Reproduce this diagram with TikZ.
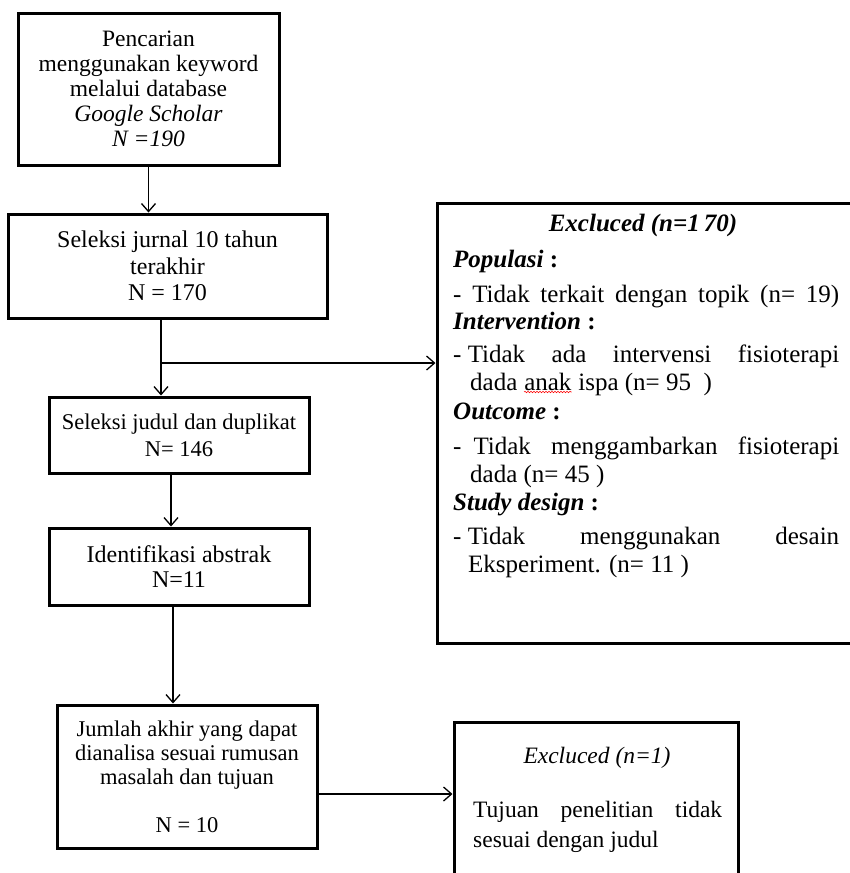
\documentclass[tikz,border=0pt]{standalone}
\usepackage{fontspec}
\setmainfont{Liberation Serif}
\usetikzlibrary{arrows.meta,decorations.pathmorphing}
\begin{document}
\begin{tikzpicture}[x=1pt,y=-1pt,
  box/.style={draw, line width=3pt, align=center, inner sep=0pt},
  conn/.style={line width=1.3pt, -{Straight Barb[length=8pt,width=14pt,line width=1.3pt]}},
  plain/.style={line width=1.3pt},
  txt/.style={anchor=base west, inner sep=0pt, font=\fontsize{25}{28}\selectfont},
  stxt/.style={anchor=base west, inner sep=0pt, font=\fontsize{23.5}{28}\selectfont},
  spell/.style={red, line width=0.6pt, decorate, decoration={snake, amplitude=0.7pt, segment length=3pt}},
]
\useasboundingbox (0,0) rectangle (850,873);
\clip (0,0) rectangle (850,873);

% left column boxes
\node[box, minimum width=261pt, minimum height=152pt, font=\fontsize{23.5}{25}\selectfont] (b1) at (148.5,89)
  {Pencarian\\menggunakan keyword\\melalui database\\\textit{Google Scholar}\\\textit{N =190}};
\node[box, minimum width=319pt, minimum height=104pt, font=\fontsize{24}{26.5}\selectfont] (b2) at (167.5,266)
  {Seleksi jurnal 10 tahun\\terakhir\\N = 170};
\node[box, minimum width=260pt, minimum height=76pt, font=\fontsize{22.5}{27}\selectfont] (b3) at (179,435)
  {Seleksi judul dan duplikat\\N= 146};
\node[box, minimum width=260pt, minimum height=77pt, font=\fontsize{24}{25}\selectfont] (b4) at (179,566.5)
  {Identifikasi abstrak\\N=11};
\node[box, minimum width=260pt, minimum height=143pt, font=\fontsize{22.5}{24}\selectfont] (b5) at (187,776.5)
  {Jumlah akhir yang dapat\\dianalisa sesuai rumusan\\masalah dan tujuan\\[24pt]N = 10};

% right boxes
\node[box, minimum width=426pt, minimum height=440pt] (ex1) at (650,423) {};
\node[box, minimum width=284pt, minimum height=178pt] (ex2) at (596,811) {};

% connectors
\draw[conn] (b1.south) -- (b1.south |- b2.north);
\coordinate (j1) at (161,363);
\draw[plain] (j1 |- b2.south) -- (j1);
\draw[conn] (j1) -- (j1 |- b3.north);
\draw[conn] (j1) -- (j1 -| ex1.west);
\coordinate (j2) at (171,0);
\draw[conn] (j2 |- b3.south) -- (j2 |- b4.north);
\coordinate (j3) at (173,0);
\draw[conn] (j3 |- b4.south) -- (j3 |- b5.north);
\coordinate (j4) at (0,794);
\draw[conn] (j4 -| b5.east) -- (j4 -| ex2.west);

% big excluded box text
\node[inner sep=0pt, font=\fontsize{25}{28}\selectfont\bfseries\itshape] (h0) at (643,225) {Excluced (n=1\kern4pt 70)};
\node[txt] (l1) at (453,267) {\textbf{\textit{Populasi} :}};
\node[txt] (l2) at (453,302) {\hbox to 386pt{- Tidak terkait dengan topik (n= 19)}};
\node[txt] (l3) at (453,329) {\textbf{\textit{Intervention} :}};
\node[txt] (l4) at (453,362) {\hbox to 386pt{- Tidak\hfill ada\hfill intervensi\hfill fisioterapi}};
\node[txt] (l5) at (470,390) {dada};
\node[txt] (l5b) at ([xshift=6.5pt]l5.base east) {anak};
\node[txt] (l5c) at ([xshift=6.5pt]l5b.base east) {ispa (n= 95 \ )};
\draw[spell] ([yshift=-2pt]l5b.base west) -- ([yshift=-2pt]l5b.base east);
\node[txt] (l6) at (453,419) {\textbf{\textit{Outcome} :}};
\node[txt] (l7) at (453,454) {\hbox to 386pt{-\hspace{12pt}Tidak menggambarkan fisioterapi}};
\node[txt] (l8) at (470,482) {dada (n= 45 )};
\node[txt] (l9) at (453,510) {\textbf{\textit{Study design} :}};
\node[txt] (l10) at (453,544) {\hbox to 386pt{- Tidak\hfill menggunakan\hfill desain}};
\node[txt] (l11) at (468,572) {Eksperiment. (n= 11 )};

% small excluded box text
\node[inner sep=0pt, font=\fontsize{23.5}{28}\selectfont\itshape] (e2t) at (597,758) {Excluced (n=1)};
\node[stxt] (e2a) at (473,817) {\hbox to 249pt{Tujuan\hfill penelitian\hfill tidak}};
\node[stxt] (e2b) at (473,847) {sesuai dengan judul};
\end{tikzpicture}
\end{document}
